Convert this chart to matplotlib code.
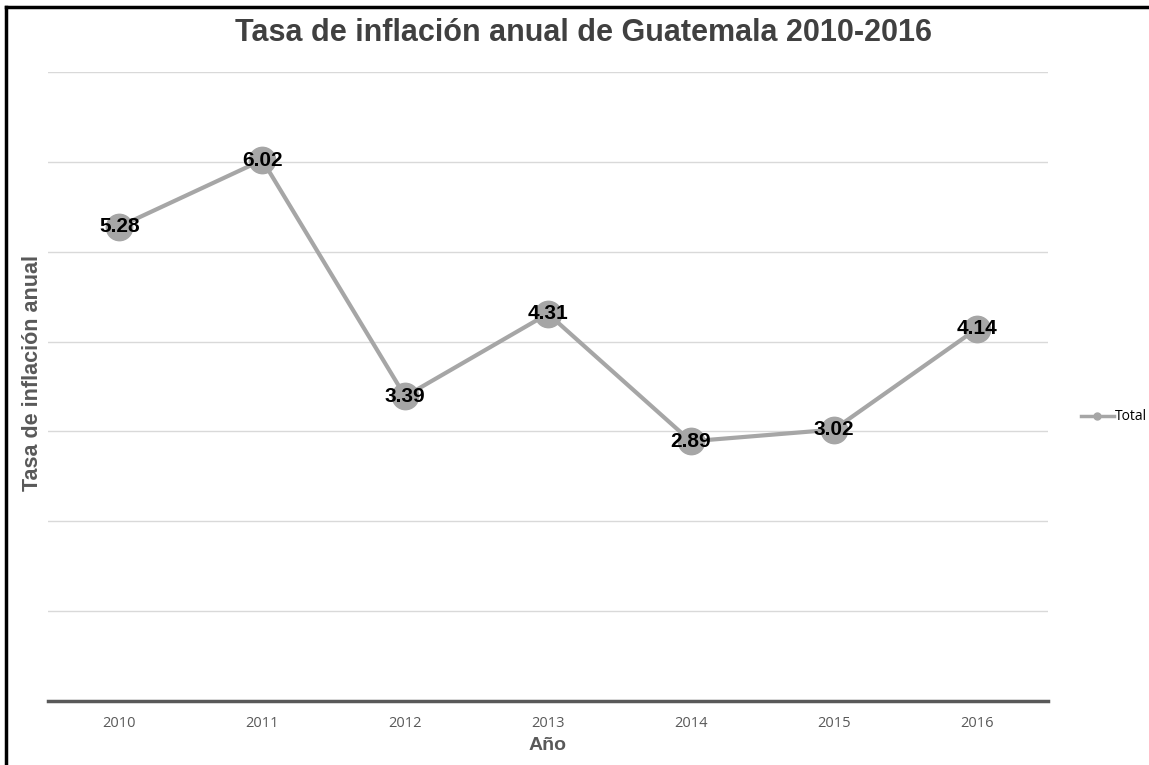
import matplotlib.pyplot as plt
from matplotlib.lines import Line2D

years = ['2010', '2011', '2012', '2013', '2014', '2015', '2016']
tasa = [5.28, 6.02, 3.39, 4.31, 2.89, 3.02, 4.14]

fig = plt.figure(figsize=(11.49, 7.65), dpi=100)
ax = fig.add_axes([48 / 1149, 64 / 765, 1000 / 1149, 629 / 765])

x = range(len(years))
ax.plot(x, tasa, color='#a6a6a6', lw=3, marker='o', ms=19,
        markerfacecolor='#a6a6a6', markeredgecolor='#a6a6a6', zorder=3)
for xi, v in zip(x, tasa):
    ax.text(xi, v, f'{v:.2f}', ha='center', va='center', fontsize=15,
            fontweight='bold', family='Liberation Sans', color='black', zorder=4)

ax.set_xlim(-0.5, 6.5)
ax.set_ylim(0, 7)
ax.set_yticks(range(1, 8))
ax.set_yticklabels([])
ax.tick_params(axis='y', length=0)
ax.tick_params(axis='x', length=0, pad=11, labelsize=10.5, labelcolor='#595959')
ax.set_xticks(list(x))
ax.set_xticklabels(years, family='Open Sans')
ax.grid(axis='y', color='#d9d9d9', lw=1)
ax.set_axisbelow(True)
for s in ['top', 'right', 'left']:
    ax.spines[s].set_visible(False)
ax.spines['bottom'].set_color('#595959')
ax.spines['bottom'].set_linewidth(2.5)

ax.set_xlabel('Año', fontsize=14, fontweight='bold', family='Liberation Sans',
              color='#595959', labelpad=4)
fig.text(33 / 1149, 1 - 373 / 765, 'Tasa de inflación anual', rotation=90,
         ha='center', va='center', fontsize=15.5, fontweight='bold',
         family='Liberation Sans', color='#595959')

fig.text(583 / 1149, 1 - 33 / 765, 'Tasa de inflación anual de Guatemala 2010-2016',
         ha='center', va='center', fontsize=22, fontweight='bold',
         family='Liberation Sans', color='#404040')

h = Line2D([], [], color='#a6a6a6', lw=2.5, marker='o', ms=5)
fig.legend([h], ['Total'], loc='center left', bbox_to_anchor=(1068 / 1149, 1 - 417 / 765),
           frameon=False, handlelength=2.4, handletextpad=0.1,
           prop={'family': 'Open Sans', 'size': 10})

# border on left and top of picture
fig.add_artist(Line2D([6 / 1149, 6 / 1149], [0, 1 - 7 / 765], color='black', lw=2.5))
fig.add_artist(Line2D([6 / 1149, 1], [1 - 7 / 765, 1 - 7 / 765], color='black', lw=2.5))

fig.savefig('out.png', dpi=100)
